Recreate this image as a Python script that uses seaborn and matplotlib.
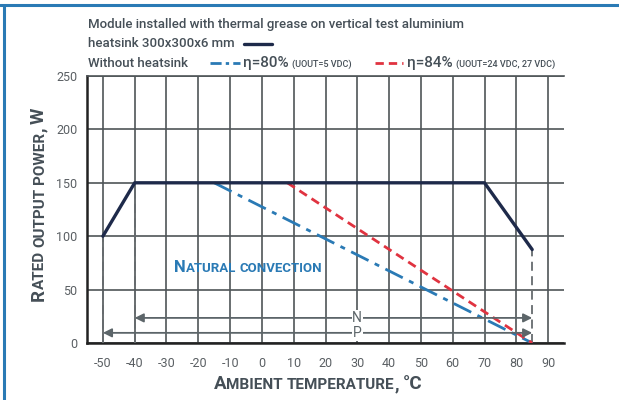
import matplotlib
matplotlib.use("Agg")
import matplotlib.pyplot as plt
from matplotlib.transforms import IdentityTransform
from matplotlib.lines import Line2D
import seaborn as sns

# ---------------- data ----------------
temp_heatsink = [-50, -40, 70, 85]
power_heatsink = [100, 150, 150, 87.5]
temp_eta80 = [-15, 85]
power_eta80 = [150, 0]
temp_eta84 = [8, 85]
power_eta84 = [150, 0]
x_ticks = list(range(-50, 91, 10))
y_ticks = [0, 50, 100, 150, 200, 250]
range_N = [-40, 85]
range_P = [-50, 85]
arrow_y_N = 23.5
arrow_y_P = 9.5

title_line1 = "Module installed with thermal grease on vertical test aluminium"
title_line2 = "heatsink 300x300x6 mm"
legend_without = "Without heatsink"
legend_80 = "η=80%"
legend_80_note = "(UOUT=5 VDC)"
legend_84 = "η=84%"
legend_84_note = "(UOUT=24 VDC, 27 VDC)"
x_label = "Ambient temperature, °C"
y_label = "Rated output power, W"
region_label = "Natural convection"

# ---------------- style ----------------
sns.set_theme(style="white")
FONT = ["Roboto", "DejaVu Sans"]
plt.rcParams["font.family"] = FONT

NAVY = "#1e2a4a"
BLUE = "#2a7ab5"
RED = "#e03340"
GRID = "#4f5558"
TXT = "#454f57"
ARROW = "#5c6569"

W, H = 619, 400
fig = plt.figure(figsize=(W / 100, H / 100), dpi=100)
fig.patch.set_facecolor("white")
ax = fig.add_axes([87 / W, 1 - 343 / H, (564 - 87) / W, (343 - 76) / H])
ax.set_facecolor("white")

sns.lineplot(x=temp_heatsink, y=power_heatsink, ax=ax, color=NAVY, lw=2.4,
             sort=False, zorder=5)
sns.lineplot(x=temp_eta80, y=power_eta80, ax=ax, color=BLUE, lw=2.0,
             linestyle=(0, (7, 2.5, 1.8, 2.5)), sort=False, zorder=4)
sns.lineplot(x=temp_eta84, y=power_eta84, ax=ax, color=RED, lw=2.0,
             linestyle=(0, (3.2, 2)), sort=False, zorder=4)

# vertical dashed guides at the heatsink curve ends
for xi, yi in [(temp_heatsink[0], power_heatsink[0]),
               (temp_heatsink[1], power_heatsink[1]),
               (temp_heatsink[-1], power_heatsink[-1])]:
    ax.plot([xi, xi], [0, yi], color="#666b6e", lw=1.3,
            linestyle=(0, (5, 3)), zorder=3)

ax.set_xlim(-55, 95)
ax.set_ylim(0, 250)
ax.set_xticks(x_ticks)
ax.set_yticks(y_ticks)
ax.set_xticklabels([str(v) for v in x_ticks])
ax.set_yticklabels([str(v) for v in y_ticks])
ax.grid(True, color=GRID, lw=1.2)
ax.set_axisbelow(True)
ax.tick_params(length=0, labelsize=9, colors="#5a5f63")
ax.tick_params(axis="x", pad=10)
ax.tick_params(axis="y", pad=7)
ax.spines["right"].set_visible(False)
ax.spines["top"].set_color(GRID)
ax.spines["top"].set_linewidth(1.2)
for s in ["left", "bottom"]:
    ax.spines[s].set_color("#222222")
    ax.spines[s].set_linewidth(1.8)

# N / P arrows
for (x0, x1), yv, lab in [(range_N, arrow_y_N, "N"), (range_P, arrow_y_P, "P")]:
    ax.annotate("", xy=(x1, yv), xytext=(x0, yv),
                arrowprops=dict(arrowstyle="<|-|>", color=ARROW, lw=1.3,
                                mutation_scale=13, shrinkA=0, shrinkB=0),
                zorder=6)
    ax.text(30, yv, lab, ha="center", va="center", color=ARROW, fontsize=10,
            bbox=dict(fc="white", ec="none", pad=0.6), zorder=7)

fig.canvas.draw()
renderer = fig.canvas.get_renderer()


def measure(txt, size, weight="normal"):
    t = fig.text(0, 0, txt, fontsize=size, fontweight=weight, family=FONT,
                 transform=IdentityTransform())
    w = t.get_window_extent(renderer).width
    t.remove()
    return w


def runs_of(text):
    runs = []
    for ch in text:
        kind = "space" if ch == " " else ("small" if ch.islower() else "big")
        if runs and runs[-1][0] == kind:
            runs[-1][1] += ch
        else:
            runs.append([kind, ch])
    return runs


def small_caps(x, y, text, big, small, color, weight="normal", rotate=False,
               draw=True):
    """Small caps text starting at pixel (x, y), y measured from the top."""
    space_w = measure("x x", small, weight) - measure("xx", small, weight)
    pos = 0.0
    for kind, seg in runs_of(text):
        if kind == "space":
            pos += space_w * len(seg)
            continue
        size = small if kind == "small" else big
        s = seg.upper()
        if draw:
            if rotate:
                fig.text(x, H - y + pos, s, fontsize=size, fontweight=weight,
                         color=color, family=FONT, rotation=90,
                         rotation_mode="anchor", ha="left", va="baseline",
                         transform=IdentityTransform())
            else:
                fig.text(x + pos, H - y, s, fontsize=size, fontweight=weight,
                         color=color, family=FONT, ha="left", va="baseline",
                         transform=IdentityTransform())
        pos += measure(s, size, weight)
    return pos


# axis labels in small caps
XB, XS = 13.5, 11
wx = small_caps(0, 0, x_label, XB, XS, TXT, weight="bold", draw=False)
small_caps(318 - wx / 2, 389, x_label, XB, XS, TXT, weight="bold")
wy = small_caps(0, 0, y_label, XB, XS, TXT, weight="bold", draw=False)
small_caps(44, 204 + wy / 2, y_label, XB, XS, TXT, weight="bold", rotate=True)

# region label
axpix = ax.transData.transform((-27.5, 66.5))
small_caps(axpix[0], H - axpix[1], region_label, 12, 9.5, BLUE, weight="bold")

# title / legend text
def ftxt(x, y, s, size=9.5, color=TXT, **kw):
    return fig.text(x, H - y, s, fontsize=size, color=color, family=FONT,
                    fontweight=500, ha="left", va="baseline",
                    transform=IdentityTransform(), **kw)

ftxt(88, 28, title_line1)
ftxt(88, 47, title_line2)
fig.add_artist(Line2D([244 / W, 272 / W], [1 - 44 / H, 1 - 44 / H],
                      color=NAVY, lw=2.4))
ftxt(88, 67, legend_without)
fig.add_artist(Line2D([210 / W, 240 / W], [1 - 63 / H, 1 - 63 / H], color=BLUE,
                      lw=2.0, linestyle=(0, (4, 1.5, 1.2, 1.5))))
w80 = ftxt(243, 67, legend_80, size=11).get_window_extent(renderer).width
ftxt(243 + w80 + 3, 67, legend_80_note, size=6.5)
fig.add_artist(Line2D([375 / W, 403 / W], [1 - 63 / H, 1 - 63 / H], color=RED,
                      lw=2.0, linestyle=(0, (3, 1.8))))
w84 = ftxt(407, 67, legend_84, size=11).get_window_extent(renderer).width
ftxt(407 + w84 + 3, 67, legend_84_note, size=6.5)

# blue frame lines
fig.add_artist(Line2D([0, 1], [1 - 5 / H, 1 - 5 / H], color=BLUE, lw=2.2))
fig.add_artist(Line2D([4 / W, 4 / W], [0, 1 - 5 / H], color=BLUE, lw=2.2))

fig.savefig("out.png", dpi=100)
